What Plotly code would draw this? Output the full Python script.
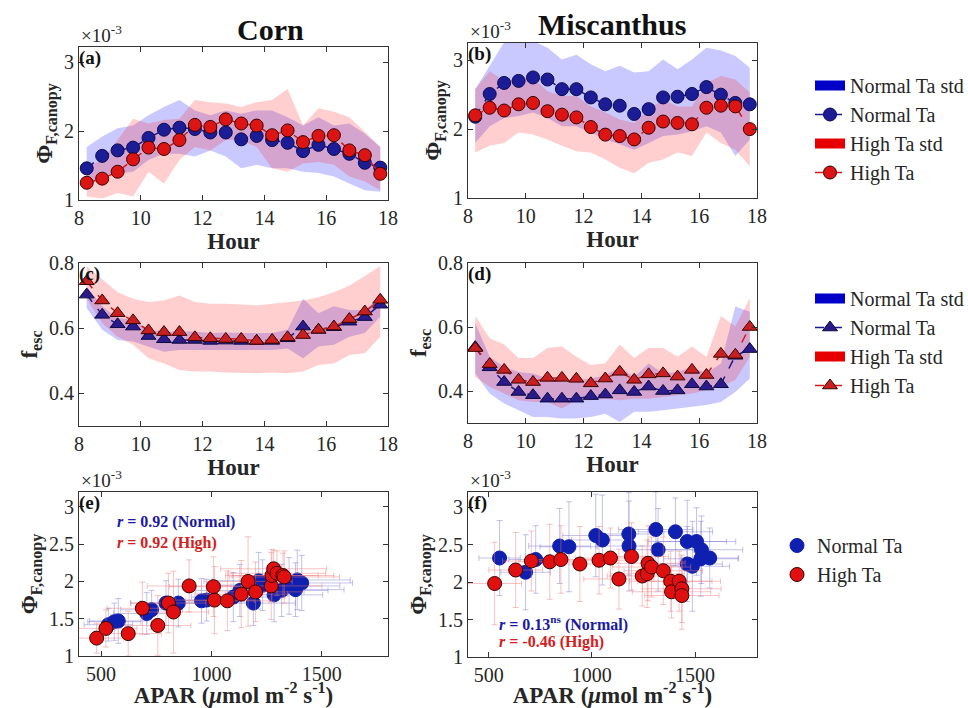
import plotly.graph_objects as go

# ---------------- data ----------------
HOURS = [8.25, 8.75, 9.25, 9.75, 10.25, 10.75, 11.25, 11.75, 12.25, 12.75,
         13.25, 13.75, 14.25, 14.75, 15.25, 15.75, 16.25, 16.75, 17.25, 17.75]

# (a) Corn, Phi_F,canopy (x1e-3)
a_normal = [1.46, 1.64, 1.72, 1.76, 1.90, 2.02, 2.05, 2.03, 1.98, 1.98, 1.88, 1.93, 1.87, 1.83, 1.71, 1.80, 1.74, 1.67, 1.54, 1.47]
a_normal_up = [1.77, 1.92, 2.04, 2.08, 2.23, 2.35, 2.45, 2.30, 2.23, 2.30, 2.25, 2.30, 2.30, 2.20, 2.08, 2.20, 2.08, 2.11, 1.96, 1.77]
a_normal_lo = [1.17, 1.36, 1.39, 1.41, 1.58, 1.67, 1.67, 1.63, 1.72, 1.63, 1.46, 1.51, 1.46, 1.46, 1.41, 1.39, 1.34, 1.24, 1.14, 1.12]
a_high = [1.25, 1.31, 1.41, 1.59, 1.76, 1.74, 1.87, 2.09, 2.06, 2.17, 2.11, 2.08, 1.94, 2.01, 1.84, 1.93, 1.94, 1.72, 1.65, 1.38]
a_high_up = [1.48, 1.58, 1.87, 2.18, 2.11, 2.16, 2.18, 2.45, 2.42, 2.40, 2.35, 2.42, 2.45, 2.61, 2.08, 2.33, 2.28, 2.20, 1.99, 1.77]
a_high_lo = [1.05, 1.02, 1.10, 1.05, 1.41, 1.24, 1.58, 1.77, 1.72, 1.87, 1.87, 1.77, 1.46, 1.41, 1.53, 1.55, 1.51, 1.34, 1.27, 1.14]

# (b) Miscanthus, Phi_F,canopy (x1e-3)
b_normal = [2.18, 2.51, 2.67, 2.70, 2.75, 2.72, 2.58, 2.58, 2.46, 2.36, 2.34, 2.22, 2.29, 2.46, 2.47, 2.51, 2.61, 2.50, 2.38, 2.36]
b_normal_up = [2.58, 2.92, 3.26, 3.28, 3.28, 3.18, 3.01, 3.08, 2.94, 2.84, 2.92, 2.82, 2.84, 3.01, 2.87, 3.01, 3.18, 3.14, 3.06, 2.89]
b_normal_lo = [1.80, 2.04, 2.16, 2.19, 2.24, 2.16, 2.04, 2.04, 1.95, 1.85, 1.78, 1.70, 1.80, 1.90, 1.92, 1.97, 2.04, 1.95, 1.61, 1.85]
b_high = [2.20, 2.31, 2.27, 2.36, 2.38, 2.26, 2.21, 2.17, 2.03, 1.92, 1.90, 1.85, 2.02, 2.11, 2.09, 2.07, 2.31, 2.34, 2.33, 2.00]
b_high_up = [2.58, 2.84, 2.70, 2.72, 2.75, 2.55, 2.48, 2.48, 2.33, 2.24, 2.14, 2.09, 2.29, 2.43, 2.33, 2.33, 2.67, 2.77, 2.72, 2.53]
b_high_lo = [1.66, 1.76, 1.80, 1.95, 1.92, 1.85, 1.76, 1.68, 1.66, 1.56, 1.44, 1.36, 1.51, 1.56, 1.66, 1.61, 1.95, 1.80, 1.70, 1.46]

# (c) Corn, f_esc
c_normal = [0.703, 0.641, 0.612, 0.605, 0.576, 0.566, 0.564, 0.564, 0.561, 0.562, 0.561, 0.561, 0.561, 0.569, 0.605, 0.595, 0.603, 0.620, 0.634, 0.672]
c_normal_up = [0.728, 0.667, 0.631, 0.626, 0.595, 0.590, 0.590, 0.590, 0.585, 0.587, 0.585, 0.585, 0.585, 0.595, 0.690, 0.646, 0.667, 0.656, 0.656, 0.697]
c_normal_lo = [0.662, 0.595, 0.564, 0.559, 0.544, 0.528, 0.533, 0.533, 0.531, 0.531, 0.533, 0.533, 0.533, 0.538, 0.508, 0.544, 0.549, 0.574, 0.585, 0.636]
c_high = [0.744, 0.685, 0.646, 0.624, 0.593, 0.588, 0.588, 0.572, 0.569, 0.567, 0.567, 0.561, 0.564, 0.572, 0.579, 0.595, 0.605, 0.628, 0.651, 0.687]
c_high_up = [0.790, 0.750, 0.710, 0.690, 0.680, 0.685, 0.700, 0.680, 0.675, 0.675, 0.673, 0.670, 0.675, 0.680, 0.685, 0.695, 0.710, 0.730, 0.760, 0.790]
c_high_lo = [0.690, 0.615, 0.574, 0.549, 0.508, 0.492, 0.472, 0.467, 0.467, 0.464, 0.462, 0.462, 0.464, 0.462, 0.467, 0.487, 0.492, 0.518, 0.523, 0.574]

# (d) Miscanthus, f_esc
d_normal = [0.537, 0.474, 0.428, 0.397, 0.387, 0.376, 0.376, 0.376, 0.384, 0.389, 0.402, 0.397, 0.414, 0.400, 0.402, 0.421, 0.414, 0.421, 0.510, 0.531]
d_normal_up = [0.612, 0.507, 0.475, 0.459, 0.455, 0.439, 0.428, 0.433, 0.439, 0.449, 0.475, 0.444, 0.486, 0.455, 0.459, 0.475, 0.455, 0.486, 0.664, 0.648]
d_normal_lo = [0.455, 0.392, 0.361, 0.340, 0.319, 0.319, 0.314, 0.314, 0.319, 0.329, 0.303, 0.335, 0.335, 0.340, 0.345, 0.350, 0.356, 0.366, 0.397, 0.439]
d_high = [0.534, 0.484, 0.466, 0.435, 0.428, 0.441, 0.441, 0.438, 0.424, 0.439, 0.460, 0.435, 0.452, 0.455, 0.445, 0.466, 0.450, 0.516, 0.513, 0.600]
d_high_up = [0.634, 0.565, 0.545, 0.503, 0.503, 0.534, 0.539, 0.507, 0.481, 0.487, 0.545, 0.503, 0.534, 0.534, 0.507, 0.539, 0.507, 0.634, 0.602, 0.690]
d_high_lo = [0.444, 0.413, 0.392, 0.371, 0.366, 0.366, 0.345, 0.371, 0.371, 0.376, 0.371, 0.376, 0.376, 0.381, 0.387, 0.392, 0.402, 0.413, 0.434, 0.507]

# (e) Corn, APAR vs Phi
e_normal_apar = [533, 560, 578, 707, 729, 794, 850, 955, 978, 1099, 1129, 1190, 1214, 1232, 1284, 1318, 1352, 1381, 1389, 1409]
e_normal_phi = [1.42, 1.46, 1.47, 1.57, 1.62, 1.71, 1.71, 1.74, 1.75, 1.79, 1.88, 1.71, 2.01, 1.95, 1.82, 1.88, 1.94, 1.89, 2.02, 1.98]
e_normal_apar_err = [110, 120, 130, 150, 140, 160, 170, 180, 170, 190, 200, 190, 210, 200, 220, 210, 230, 220, 240, 230]
e_normal_phi_err = [0.22, 0.25, 0.30, 0.28, 0.26, 0.30, 0.32, 0.30, 0.28, 0.33, 0.35, 0.30, 0.38, 0.34, 0.36, 0.35, 0.38, 0.36, 0.40, 0.37]
e_high_apar = [480, 522, 623, 687, 757, 805, 828, 899, 1009, 1014, 1072, 1135, 1166, 1200, 1271, 1274, 1282, 1297, 1324, 1330]
e_high_phi = [1.24, 1.37, 1.30, 1.64, 1.41, 1.71, 1.59, 1.94, 1.93, 1.75, 1.74, 1.83, 2.00, 1.86, 1.94, 2.08, 2.17, 2.11, 2.08, 2.06]
e_high_apar_err = [120, 140, 150, 160, 150, 170, 160, 190, 200, 180, 190, 210, 200, 220, 230, 210, 240, 220, 230, 250]
e_high_phi_err = [0.20, 0.25, 0.30, 0.35, 0.40, 0.40, 0.55, 0.35, 0.40, 0.45, 0.40, 0.45, 0.60, 0.40, 0.45, 0.35, 0.25, 0.30, 0.30, 0.35]

# (f) Miscanthus, APAR vs Phi
f_normal_apar = [553, 679, 728, 844, 889, 1019, 1051, 1179, 1180, 1310, 1321, 1405, 1462, 1462, 1487, 1507, 1531, 1528, 1571]
f_normal_phi = [2.32, 2.13, 2.30, 2.48, 2.47, 2.62, 2.56, 2.64, 2.48, 2.70, 2.43, 2.67, 2.54, 2.24, 2.21, 2.54, 2.43, 2.31, 2.32]
f_normal_apar_err = [100, 120, 130, 150, 140, 160, 150, 170, 160, 180, 170, 180, 190, 170, 180, 190, 200, 180, 140]
f_normal_phi_err = [0.50, 0.50, 0.45, 0.50, 0.60, 0.55, 0.60, 0.55, 0.60, 0.50, 0.55, 0.45, 0.55, 0.50, 0.60, 0.45, 0.45, 0.50, 0.40]
f_high_apar = [529, 631, 707, 796, 850, 942, 1035, 1090, 1131, 1192, 1244, 1268, 1272, 1289, 1346, 1382, 1386, 1423, 1436, 1436]
f_high_phi = [1.98, 2.16, 2.28, 2.27, 2.30, 2.24, 2.29, 2.32, 2.04, 2.34, 2.08, 2.11, 2.25, 2.20, 2.15, 2.01, 1.87, 2.01, 1.91, 1.82]
f_high_apar_err = [130, 130, 140, 150, 150, 160, 160, 170, 170, 180, 170, 180, 180, 190, 190, 200, 190, 200, 190, 180]
f_high_phi_err = [0.55, 0.50, 0.40, 0.50, 0.45, 0.50, 0.45, 0.40, 0.40, 0.45, 0.40, 0.45, 0.50, 0.40, 0.45, 0.40, 0.35, 0.40, 0.45, 0.45]

HOUR_TICKS = [8, 10, 12, 14, 16, 18]
APAR_TICKS = [500, 1000, 1500]

# ---------------- style ----------------
FONT = "Liberation Serif"
TXT = "#262626"
BLUE_BAND = "rgba(40,40,255,0.25)"
RED_BAND = "rgba(255,30,30,0.22)"
BLUE = "#1c1c96"
BLUE_LINE = "#1a1a8c"
RED = "#dc1414"
RED_LINE = "#d01818"
BLUE_ERR = "rgba(120,120,210,0.45)"
RED_ERR = "rgba(240,120,120,0.45)"

fig = go.Figure()


def band(xa, ya, up, lo, color):
    fig.add_trace(go.Scatter(
        x=HOURS + HOURS[::-1], y=up + lo[::-1], fill="toself", fillcolor=color,
        line=dict(width=0), mode="lines", hoverinfo="skip", showlegend=False,
        xaxis=xa, yaxis=ya))


def series(xa, ya, y, color, lcolor, symbol, size, name, legend, show, outline):
    fig.add_trace(go.Scatter(
        x=HOURS, y=y, mode="lines+markers", name=name,
        line=dict(color=lcolor, width=1.5, dash="dash"),
        marker=dict(color=color, symbol=symbol, size=size,
                    line=dict(color=outline, width=1)),
        showlegend=show, legend=legend, xaxis=xa, yaxis=ya))


def legend_band(color, name, legend):
    fig.add_trace(go.Scatter(
        x=[None], y=[None], mode="lines",
        line=dict(color=color, width=16), name=name, legend=legend,
        showlegend=True, xaxis="x2", yaxis="y2"))


# (a)
band("x", "y", a_normal_up, a_normal_lo, BLUE_BAND)
band("x", "y", a_high_up, a_high_lo, RED_BAND)
series("x", "y", a_normal, BLUE, BLUE_LINE, "circle", 13, "Normal Ta", "legend", False, "#0a0a50")
series("x", "y", a_high, RED, RED_LINE, "circle", 13, "High Ta", "legend", False, "#3a0000")

# (b)
band("x2", "y2", b_normal_up, b_normal_lo, BLUE_BAND)
band("x2", "y2", b_high_up, b_high_lo, RED_BAND)
legend_band("#0000c8", "Normal Ta std", "legend")
series("x2", "y2", b_normal, BLUE, BLUE_LINE, "circle", 13, "Normal Ta", "legend", True, "#0a0a50")
legend_band("#e60000", "High Ta std", "legend")
series("x2", "y2", b_high, RED, RED_LINE, "circle", 13, "High Ta", "legend", True, "#3a0000")

# (c)
band("x3", "y3", c_normal_up, c_normal_lo, BLUE_BAND)
band("x3", "y3", c_high_up, c_high_lo, RED_BAND)
series("x3", "y3", c_normal, "#2a1a8a", BLUE_LINE, "triangle-up", 13, "Normal Ta", "legend2", False, "#0a0a40")
series("x3", "y3", c_high, "#c82020", RED_LINE, "triangle-up", 13, "High Ta", "legend2", False, "#3a0000")

# (d)
band("x4", "y4", d_normal_up, d_normal_lo, BLUE_BAND)
band("x4", "y4", d_high_up, d_high_lo, RED_BAND)
legend_band("#0000c8", "Normal Ta std", "legend2")
series("x4", "y4", d_normal, "#2a1a8a", BLUE_LINE, "triangle-up", 13, "Normal Ta", "legend2", True, "#0a0a40")
legend_band("#e60000", "High Ta std", "legend2")
series("x4", "y4", d_high, "#c82020", RED_LINE, "triangle-up", 13, "High Ta", "legend2", True, "#3a0000")


def scatter(xa, ya, x, y, ex, ey, color, ecolor, outline, name, show):
    fig.add_trace(go.Scatter(
        x=x, y=y, mode="markers", name=name,
        marker=dict(color=color, size=14, line=dict(color=outline, width=1)),
        error_x=dict(type="data", array=ex, color=ecolor, thickness=1, width=3),
        error_y=dict(type="data", array=ey, color=ecolor, thickness=1, width=3),
        showlegend=show, legend="legend3", xaxis=xa, yaxis=ya))


# (e)
scatter("x5", "y5", e_normal_apar, e_normal_phi, e_normal_apar_err, e_normal_phi_err,
        "#0f1fb0", BLUE_ERR, "#0f1fb0", "Normal Ta", False)
scatter("x5", "y5", e_high_apar, e_high_phi, e_high_apar_err, e_high_phi_err,
        "#e01010", RED_ERR, "#400000", "High Ta", False)
# (f)
scatter("x6", "y6", f_normal_apar, f_normal_phi, f_normal_apar_err, f_normal_phi_err,
        "#0f1fb0", BLUE_ERR, "#0f1fb0", "Normal Ta", True)
scatter("x6", "y6", f_high_apar, f_high_phi, f_high_apar_err, f_high_phi_err,
        "#e01010", RED_ERR, "#400000", "High Ta", True)

# ---------------- axes ----------------
W, H = 968, 708


def xd(l, r):
    return [l / W, r / W]


def yd(top, bottom):
    return [1 - bottom / H, 1 - top / H]


tick_font = dict(family=FONT, size=20, color=TXT)
title_font = dict(family=FONT, size=23, color=TXT)
ytitle_font = dict(family=FONT, size=23, color=TXT)


def xaxis(dom, anchor, rng, ticks, title):
    return dict(domain=dom, anchor=anchor, range=rng, tickvals=ticks,
                ticks="inside", ticklen=5, tickcolor="#333", mirror="ticks",
                showline=True, linecolor="#333", linewidth=1, showgrid=False,
                zeroline=False, tickfont=tick_font, automargin=False,
                title=dict(text=title, font=title_font, standoff=0))


def yaxis(dom, anchor, rng, ticks, title):
    return dict(domain=dom, anchor=anchor, range=rng, tickvals=ticks,
                ticks="inside", ticklen=5, tickcolor="#333", mirror="ticks",
                showline=True, linecolor="#333", linewidth=1, showgrid=False,
                zeroline=False, tickfont=tick_font, automargin=False,
                title=dict(text=title, font=ytitle_font, standoff=4))


PHI = "<b>Φ<sub>F,canopy</sub></b>"
FESC = "<b>f<sub>esc</sub></b>"
HOUR = "<b>Hour</b>"
APAR = "<b>APAR (<i>μ</i>mol m<sup>-2</sup> s<sup>-1</sup>)</b>"

phi_ticks = [1, 2, 3]
phi_ticks2 = [1, 1.5, 2, 2.5, 3]
fesc_ticks = [0.4, 0.6, 0.8]

leg_font = dict(family=FONT, size=20, color=TXT)

fig.update_layout(
    width=W, height=H, margin=dict(l=0, r=0, t=0, b=0, autoexpand=False),
    paper_bgcolor="white", plot_bgcolor="white",
    font=dict(family=FONT, color=TXT),
    xaxis=xaxis(xd(79, 388), "y", [8, 18], HOUR_TICKS, HOUR),
    yaxis=yaxis(yd(47, 200), "x", [1, 3.22], phi_ticks, PHI),
    xaxis2=xaxis(xd(468, 757), "y2", [8, 18], HOUR_TICKS, HOUR),
    yaxis2=yaxis(yd(43, 198), "x2", [1, 3.25], phi_ticks, PHI),
    xaxis3=xaxis(xd(79, 388), "y3", [8, 18], HOUR_TICKS, HOUR),
    yaxis3=yaxis(yd(263, 426), "x3", [0.3, 0.8], fesc_ticks, FESC),
    xaxis4=xaxis(xd(468, 757), "y4", [8, 18], HOUR_TICKS, HOUR),
    yaxis4=yaxis(yd(263, 423), "x4", [0.3, 0.8], fesc_ticks, FESC),
    xaxis5=xaxis(xd(79, 388), "y5", [400, 1800], APAR_TICKS, APAR),
    yaxis5=yaxis(yd(492, 656), "x5", [1, 3.2], phi_ticks2, PHI),
    xaxis6=xaxis(xd(468, 757), "y6", [400, 1800], APAR_TICKS, APAR),
    yaxis6=yaxis(yd(492, 657), "x6", [1, 3.2], phi_ticks2, PHI),
    legend=dict(x=810 / W, y=1 - 66 / H, xanchor="left", yanchor="top",
                font=leg_font, bgcolor="rgba(0,0,0,0)",
                tracegroupgap=0, traceorder="normal"),
    legend2=dict(x=810 / W, y=1 - 279 / H, xanchor="left", yanchor="top",
                 font=leg_font, bgcolor="rgba(0,0,0,0)",
                 tracegroupgap=0, traceorder="normal"),
    legend3=dict(x=777 / W, y=1 - 526 / H, xanchor="left", yanchor="top",
                 font=leg_font, bgcolor="rgba(0,0,0,0)",
                 tracegroupgap=0, traceorder="normal"),
)

ann = []
for i, lab in enumerate(["(a)", "(b)", "(c)", "(d)", "(e)", "(f)"]):
    sfx = "" if i == 0 else str(i + 1)
    ann.append(dict(text=f"<b>{lab}</b>", xref=f"x{sfx} domain", yref=f"y{sfx} domain",
                    x=0, y=1, xanchor="left", yanchor="top", showarrow=False,
                    font=dict(family=FONT, size=19, color="#111"), xshift=-2, yshift=2))
for sfx in ["", "2", "5", "6"]:
    ann.append(dict(text="×10<sup>-3</sup>", xref=f"x{sfx} domain", yref=f"y{sfx} domain",
                    x=0, y=1, xanchor="left", yanchor="bottom", showarrow=False,
                    font=dict(family=FONT, size=19, color=TXT), yshift=-1))
ann.append(dict(text="<b>Corn</b>", xref="paper", yref="paper", x=235 / W, y=1 - 29 / H,
                yanchor="middle", showarrow=False, font=dict(family=FONT, size=30, color="#111")))
ann.append(dict(text="<b>Miscanthus</b>", xref="paper", yref="paper", x=612 / W, y=1 - 24 / H,
                yanchor="middle", showarrow=False, font=dict(family=FONT, size=30, color="#111")))
ann.append(dict(text="<b><i>r</i> = 0.92 (Normal)</b>", xref="x5 domain", yref="y5 domain",
                x=0.115, y=0.817, xanchor="left", yanchor="middle", showarrow=False,
                font=dict(family=FONT, size=16, color="#1a1aa0")))
ann.append(dict(text="<b><i>r</i> = 0.92 (High)</b>", xref="x5 domain", yref="y5 domain",
                x=0.115, y=0.689, xanchor="left", yanchor="middle", showarrow=False,
                font=dict(family=FONT, size=16, color="#d42020")))
ann.append(dict(text="<b><i>r</i> = 0.13<sup>ns</sup> (Normal)</b>", xref="x6 domain", yref="y6 domain",
                x=0.10, y=0.206, xanchor="left", yanchor="middle", showarrow=False,
                font=dict(family=FONT, size=16, color="#1a1aa0")))
ann.append(dict(text="<b><i>r</i> = -0.46 (High)</b>", xref="x6 domain", yref="y6 domain",
                x=0.10, y=0.091, xanchor="left", yanchor="middle", showarrow=False,
                font=dict(family=FONT, size=16, color="#d42020")))
fig.update_layout(annotations=ann)

fig.write_html("out.html", config=dict(displayModeBar=False),
               post_script="document.body.style.margin='0';document.body.style.overflow='hidden';")
